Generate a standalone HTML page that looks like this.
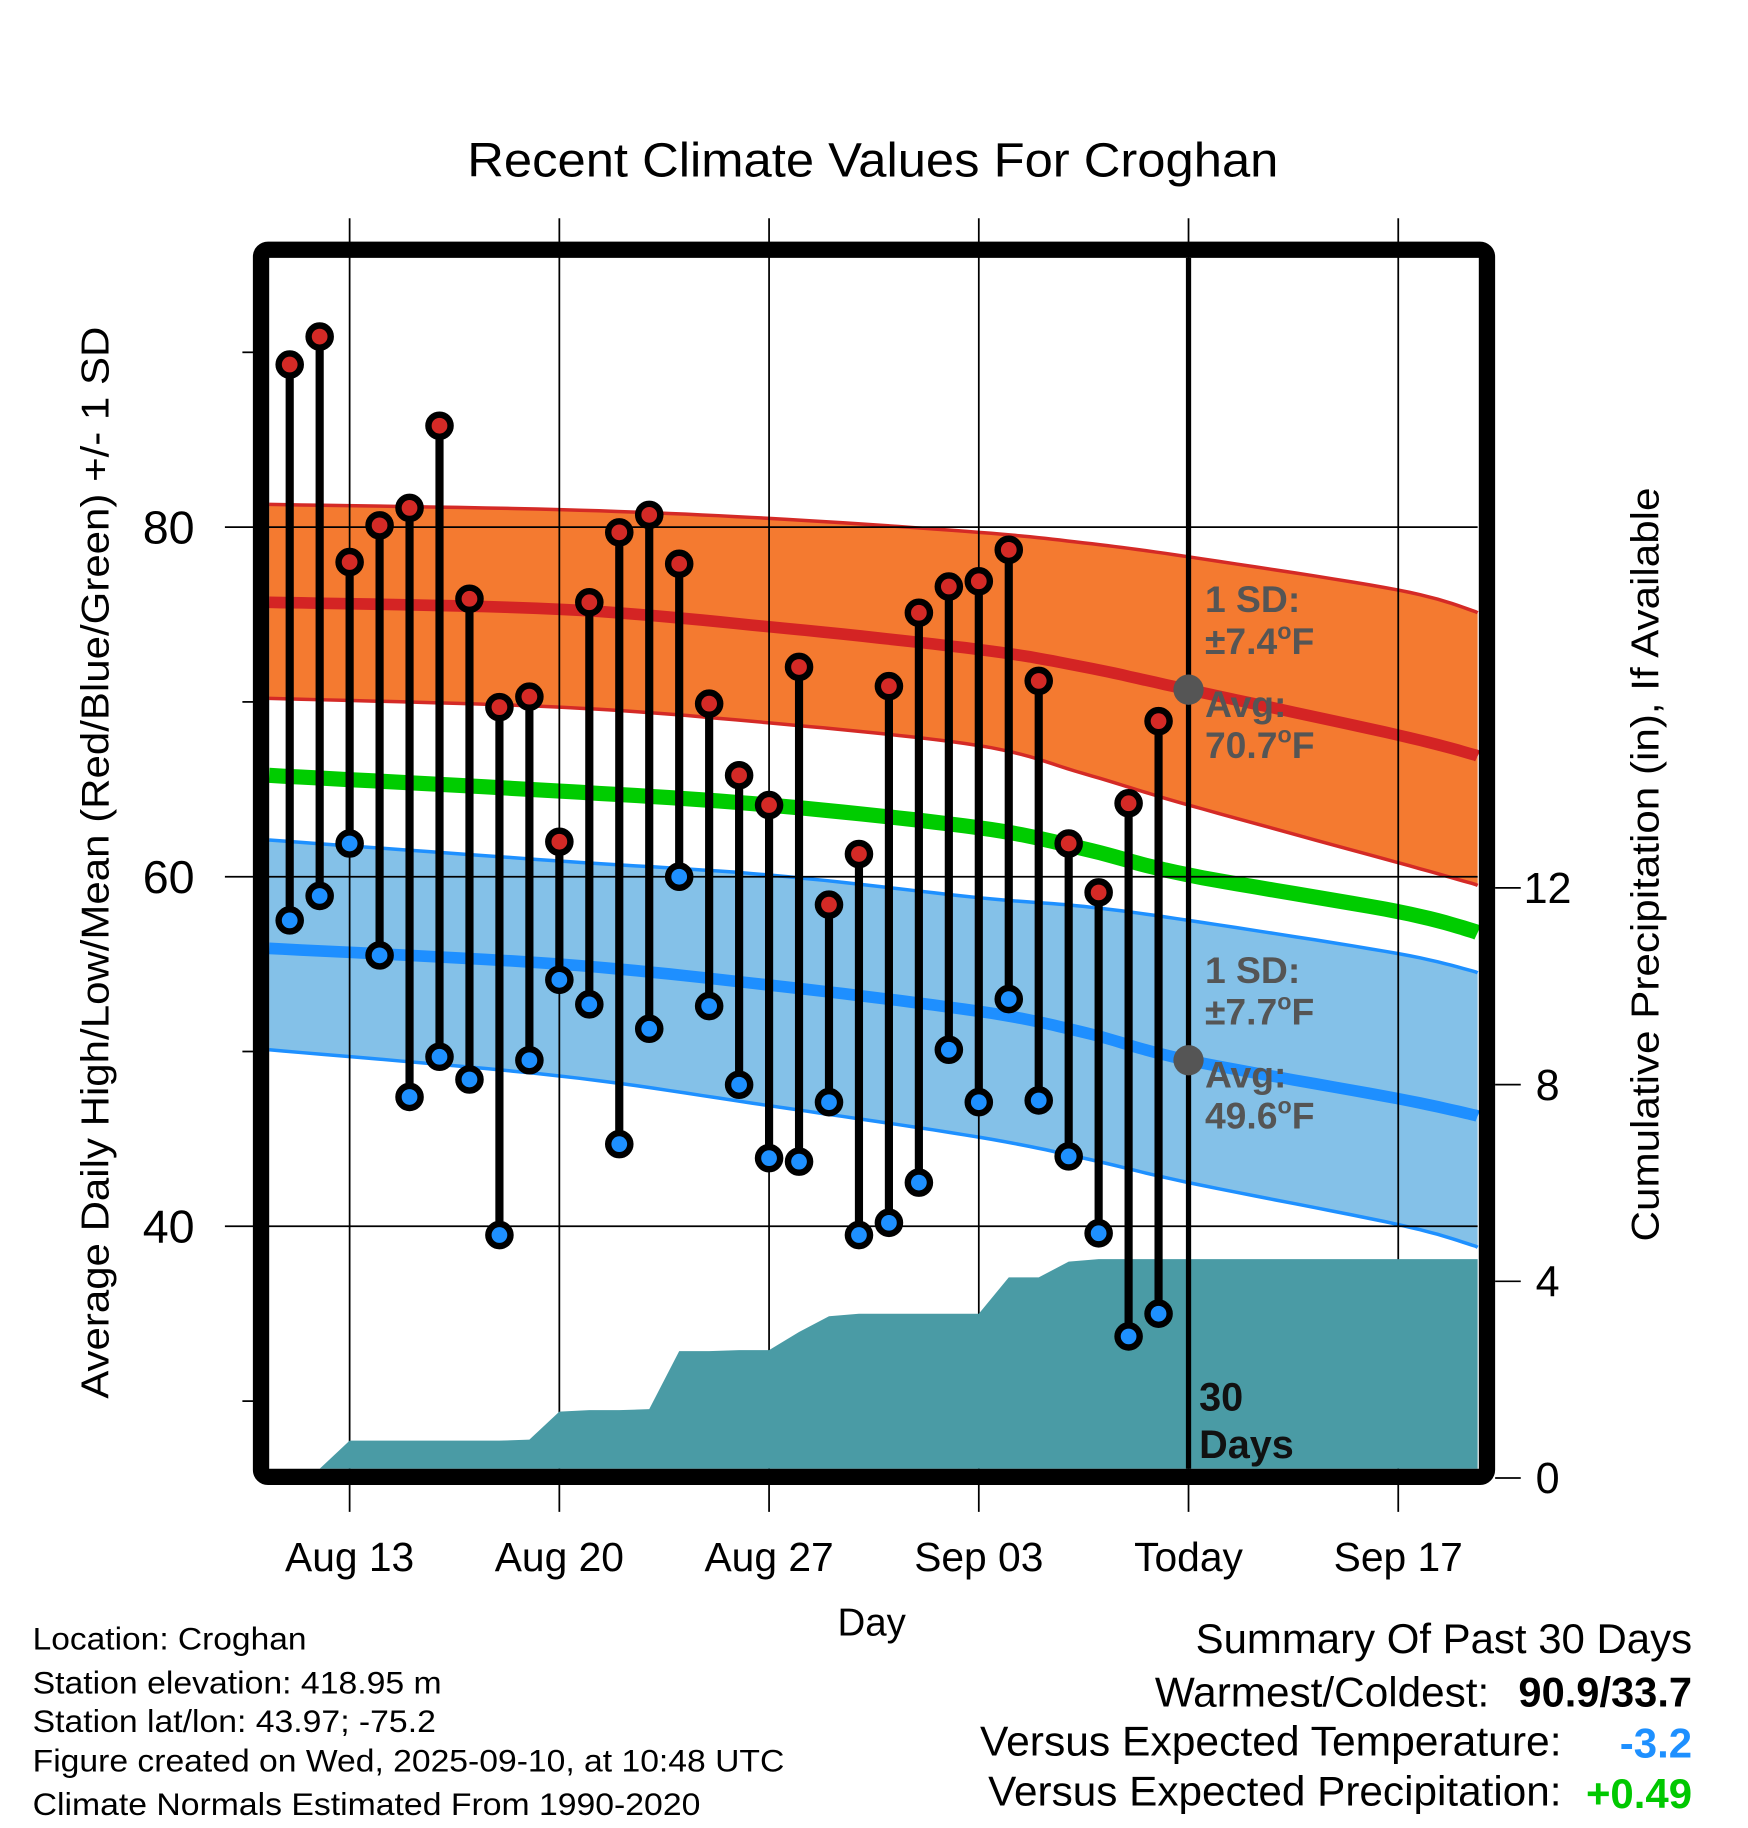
<!DOCTYPE html>
<html><head><meta charset="utf-8"><style>
html,body{margin:0;padding:0;background:#fff;}
svg{display:block;font-family:"Liberation Sans",sans-serif;}
</style></head><body>
<svg id="chart" width="1748" height="1828" viewBox="0 0 1500 1568" xmlns="http://www.w3.org/2000/svg">
<rect width="1500" height="1568" fill="#fff"/>
<text x="401" y="151" font-size="41" textLength="696" lengthAdjust="spacingAndGlyphs">Recent Climate Values For Croghan</text>
<g id="layer-bands"></g>
<g id="layer-grid"></g>
<g id="layer-precip"></g>
<g id="layer-data"></g>
<g id="layer-top"></g>
<text transform="translate(93,1200) rotate(-90)" font-size="33" textLength="920" lengthAdjust="spacingAndGlyphs">Average Daily High/Low/Mean (Red/Blue/Green) +/- 1 SD</text>
<text transform="translate(1423,1065) rotate(-90)" font-size="33" textLength="647" lengthAdjust="spacingAndGlyphs">Cumulative Precipitation (in), If Available</text>
<text x="748" y="1403" font-size="33" text-anchor="middle">Day</text>
<g font-size="27">
<text x="28" y="1415" textLength="235" lengthAdjust="spacingAndGlyphs">Location: Croghan</text>
<text x="28" y="1453" textLength="351" lengthAdjust="spacingAndGlyphs">Station elevation: 418.95 m</text>
<text x="28" y="1486" textLength="346" lengthAdjust="spacingAndGlyphs">Station lat/lon: 43.97; -75.2</text>
<text x="28" y="1520" textLength="645" lengthAdjust="spacingAndGlyphs">Figure created on Wed, 2025-09-10, at 10:48 UTC</text>
<text x="28" y="1557" textLength="573" lengthAdjust="spacingAndGlyphs">Climate Normals Estimated From 1990-2020</text>
</g>
<g font-size="36">
<text x="1026" y="1418" textLength="426" lengthAdjust="spacingAndGlyphs">Summary Of Past 30 Days</text>
<text x="991" y="1464" textLength="287" lengthAdjust="spacingAndGlyphs">Warmest/Coldest:</text>
<text x="1303" y="1464" font-weight="bold" textLength="149" lengthAdjust="spacingAndGlyphs">90.9/33.7</text>
<text x="841" y="1506" textLength="499" lengthAdjust="spacingAndGlyphs">Versus Expected Temperature:</text>
<text x="1452" y="1508" text-anchor="end" font-weight="bold" fill="#1e90ff">-3.2</text>
<text x="848" y="1549" textLength="492" lengthAdjust="spacingAndGlyphs">Versus Expected Precipitation:</text>
<text x="1452" y="1551" text-anchor="end" font-weight="bold" fill="#00c800">+0.49</text>
</g>
</svg>
<script>
// ---- data ----
const highs = [89.3,90.9,78.0,80.1,81.1,85.8,75.9,69.7,70.3,62.0,75.7,79.7,80.7,77.9,69.9,65.8,64.1,72.0,58.4,61.3,70.9,75.1,76.6,76.9,78.7,71.2,61.9,59.1,64.2,68.9];
const lows = [57.5,58.9,61.9,55.5,47.4,49.7,48.4,39.5,49.5,54.1,52.7,44.7,51.3,60.0,52.6,48.1,43.9,43.7,47.1,39.5,40.2,42.5,50.1,47.1,53.0,47.2,44.0,39.6,33.7,35.0];
const precip = [0,0,0.76,0.76,0.76,0.76,0.76,0.76,0.78,1.35,1.38,1.38,1.40,2.58,2.58,2.60,2.60,2.97,3.29,3.34,3.34,3.34,3.34,3.34,4.08,4.08,4.40,4.45,4.45,4.45];
const normDays = [-0.7,9,16,23,26.5,30,37,39.7];
const normHighMean = [75.7,75.3,74.3,73.0,72.0,70.7,68.1,66.9];
const normHighUpper = [81.3,81.0,80.5,79.7,79.1,78.3,76.4,75.1];
const normHighLower = [70.2,69.7,68.8,67.5,65.9,64.1,60.8,59.5];
const normMean = [65.8,64.9,64.1,62.8,61.6,60.1,58.0,56.8];
const normLowMean = [55.9,55.0,53.8,52.3,51.1,49.5,47.3,46.3];
const normLowUpper = [62.1,60.9,60.1,58.8,58.3,57.5,55.6,54.5];
const normLowLower = [50.1,48.6,46.9,45.1,43.9,42.5,40.1,38.8];
const yTicks = [40,60,80];
const yMinor = [30,50,70,90];
const y2Ticks = [0,4,8,12];
const xTickDays = [2,9,16,23,30,37];
const xTickLabels = ["Aug 13","Aug 20","Aug 27","Sep 03","Today","Sep 17"];
// ---- scales ----
const L=231,R=1268,T=221,B=1260;
const x = d => 248.6 + d*25.71;
const y = t => 452 + (80-t)*15;
const y2 = p => 1268 - p*42.2;
const NS="http://www.w3.org/2000/svg";
function mk(tag, attrs, parent){const e=document.createElementNS(NS,tag);for(const k in attrs)e.setAttribute(k,attrs[k]);parent.appendChild(e);return e;}
const gB=document.getElementById('layer-bands'),gG=document.getElementById('layer-grid'),gP=document.getElementById('layer-precip'),gD=document.getElementById('layer-data'),gT=document.getElementById('layer-top');
// smooth (Catmull-Rom) sampling of a normal series
function smooth(arr){
  const out=[];const n=normDays.length;
  for(let i=0;i<n-1;i++){
    const p0=[normDays[Math.max(0,i-1)],arr[Math.max(0,i-1)]],p1=[normDays[i],arr[i]],p2=[normDays[i+1],arr[i+1]],p3=[normDays[Math.min(n-1,i+2)],arr[Math.min(n-1,i+2)]];
    for(let s=0;s<12;s++){const t=s/12,t2=t*t,t3=t2*t;
      const f=k=>0.5*((2*p1[k])+(-p0[k]+p2[k])*t+(2*p0[k]-5*p1[k]+4*p2[k]-p3[k])*t2+(-p0[k]+3*p1[k]-3*p2[k]+p3[k])*t3);
      out.push([Math.max(L,Math.min(R,x(f(0)))),y(f(1))]);}
  }
  out.push([R,y(arr[n-1])]);
  out[0][0]=L;
  return out;
}
const pstr=a=>a.map(p=>p[0].toFixed(1)+','+p[1].toFixed(1)).join(' ');
function band(up,lo,fill,edge,name){
  const su=smooth(up),sl=smooth(lo);
  const b=mk('polygon',{points:pstr(su.concat(sl.slice().reverse())),fill:fill},gB);
  
  
  const e1=mk('polyline',{points:pstr(su),fill:'none',stroke:edge,'stroke-width':3},gB);
  
  
  const e2=mk('polyline',{points:pstr(sl),fill:'none',stroke:edge,'stroke-width':3},gB);
  
  
}
band(normHighUpper,normHighLower,'#f47a30','#d42a26','high-sd-band');
band(normLowUpper,normLowLower,'#84c1e8','#1e90ff','low-sd-band');
let ln=mk('polyline',{points:pstr(smooth(normHighMean)),fill:'none',stroke:'#d42424','stroke-width':10},gB);


ln=mk('polyline',{points:pstr(smooth(normMean)),fill:'none',stroke:'#00cc00','stroke-width':13},gB);


ln=mk('polyline',{points:pstr(smooth(normLowMean)),fill:'none',stroke:'#1e8fff','stroke-width':10},gB);


// grid + ticks
yTicks.forEach(t=>{
  const g=mk('line',{x1:193,x2:R,y1:y(t),y2:y(t),stroke:'#000','stroke-width':1.5},gG);
  
  
  const tx=mk('text',{x:167,y:y(t)+14,'font-size':40,'text-anchor':'end'},gT);tx.textContent=t;
  
  
});
yMinor.forEach(t=>{
  const g=mk('line',{x1:208,x2:218,y1:y(t),y2:y(t),stroke:'#000','stroke-width':1.5},gG);
  
  
});
y2Ticks.forEach(p=>{
  const g=mk('line',{x1:1283,x2:1305,y1:y2(p),y2:y2(p),stroke:'#000','stroke-width':1.5},gG);
  
  
  const tx=mk('text',{x:1328,y:y2(p)+13,'font-size':37,'text-anchor':'middle'},gT);tx.textContent=p;
  
  
});
xTickDays.forEach((d,i)=>{
  const g=mk('line',{x1:x(d),x2:x(d),y1:187,y2:1297,stroke:'#000','stroke-width':1.5},gG);
  
  
  const tx=mk('text',{x:x(d),y:1348,'font-size':35,'text-anchor':'middle'},gT);tx.textContent=xTickLabels[i];
  
  
});
// precip area
let pp=[[L,B]];
precip.forEach((p,i)=>{pp.push([x(i),Math.min(B,y2(p))]);});
pp.push([R,y2(precip[precip.length-1])]);pp.push([R,B]);
const pa=mk('polygon',{points:pp.map(p=>p.join(',')).join(' '),fill:'#4a9ba5'},gP);


// stems and markers
highs.forEach((h,i)=>{
  const s=mk('line',{x1:x(i),x2:x(i),y1:y(h),y2:y(lows[i]),stroke:'#000','stroke-width':7},gD);
  
  
});
highs.forEach((h,i)=>{
  const c=mk('circle',{cx:x(i),cy:y(h),r:9.5,fill:'#d42a26',stroke:'#000','stroke-width':5.5},gD);
  
  
  const c2=mk('circle',{cx:x(i),cy:y(lows[i]),r:9.5,fill:'#1e90ff',stroke:'#000','stroke-width':5.5},gD);
  
  
});
// today line, avg dots, frame
const tl=mk('line',{x1:x(30),x2:x(30),y1:T,y2:B,stroke:'#000','stroke-width':4.5},gT);


let ad=mk('circle',{cx:x(30),cy:y(normHighMean[5]),r:13,fill:'#555'},gT);


ad=mk('circle',{cx:x(30),cy:y(normLowMean[5]),r:13,fill:'#555'},gT);


const fr=mk('rect',{x:224,y:214,width:1052,height:1053,rx:6,fill:'none',stroke:'#000','stroke-width':14},gT);


const ann=[["1 SD:",525,""],["±7.4",561,"F"],["Avg:",615,""],["70.7",650,"F"],["1 SD:",843,""],["±7.7",879,"F"],["Avg:",933,""],["49.6",968,"F"]];
ann.forEach(a=>{
  const tx=mk('text',{x:1034,y:a[1],'font-size':32,'font-weight':'bold',fill:'#555'},gT);
  tx.textContent=a[0];
  if(a[2]){
    const s=mk('tspan',{'font-size':20,dy:-13},tx);s.textContent='o';
    const f=mk('tspan',{dy:13},tx);f.textContent=a[2];
  }
  
  
});
[["30",1210],["Days",1251]].forEach(a=>{
  const tx=mk('text',{x:1029,y:a[1],'font-size':34,'font-weight':'bold',fill:'#111'},gT);tx.textContent=a[0];
  
  
});
</script>
</body></html>
